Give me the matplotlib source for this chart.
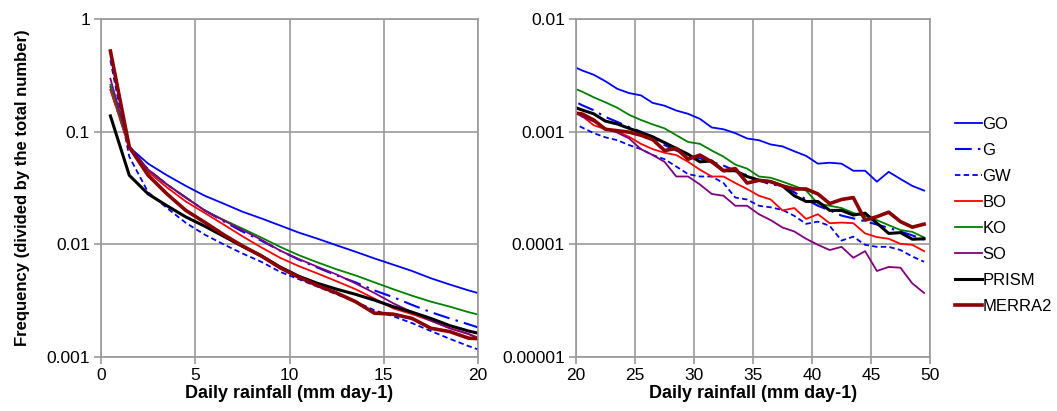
import matplotlib
matplotlib.use("Agg")
import matplotlib.pyplot as plt
from matplotlib.ticker import FixedLocator, NullLocator

plt.rcParams['font.family'] = ['Liberation Sans', 'DejaVu Sans']

# bin centres (mm day-1)
rain = [0.5, 1.5, 2.5, 3.5, 4.5, 5.5, 6.5, 7.5, 8.5, 9.5,
        10.5, 11.5, 12.5, 13.5, 14.5, 15.5, 16.5, 17.5, 18.5, 19.5,
        20.5, 21.5, 22.5, 23.5, 24.5, 25.5, 26.5, 27.5, 28.5, 29.5,
        30.5, 31.5, 32.5, 33.5, 34.5, 35.5, 36.5, 37.5, 38.5, 39.5,
        40.5, 41.5, 42.5, 43.5, 44.5, 45.5, 46.5, 47.5, 48.5, 49.5]

go = [0.25, 0.073, 0.052, 0.041, 0.033, 0.027, 0.023, 0.0195, 0.017, 0.0147,
      0.0127, 0.0112, 0.0098, 0.0086, 0.0075, 0.0066, 0.0058, 0.0050, 0.0044, 0.0039,
      0.0035, 0.0032, 0.0028, 0.0024, 0.0022, 0.0021, 0.0018, 0.0017, 0.00154, 0.00144,
      0.0013, 0.00109, 0.00105, 0.00097, 0.00087, 0.00084, 0.00077, 0.00074, 0.00067, 0.00061,
      0.00052, 0.00053, 0.00052, 0.00045, 0.00045, 0.00036, 0.00044, 0.00038, 0.00033, 0.00030]
g = [0.24, 0.074, 0.046, 0.034, 0.026, 0.020, 0.016, 0.013, 0.0108, 0.0088,
     0.0073, 0.0062, 0.0053, 0.0046, 0.0039, 0.0034, 0.0029, 0.0025, 0.0022, 0.00195,
     0.00172, 0.00155, 0.00135, 0.00122, 0.0011, 0.0010, 0.00090, 0.00076, 0.00068, 0.00062,
     0.00058, 0.00054, 0.00050, 0.00045, 0.00041, 0.00037, 0.00034, 0.00033, 0.00029, 0.00025,
     0.00022, 0.00020, 0.00018, 0.00017, 0.00016, 0.00015, 0.00014, 0.00013, 0.00012, 0.00011]
gw = [0.43, 0.06, 0.029, 0.021, 0.0155, 0.0122, 0.0100, 0.0083, 0.0070, 0.0057,
      0.0049, 0.0042, 0.0036, 0.0031, 0.0026, 0.0023, 0.0020, 0.0017, 0.00145, 0.00125,
      0.00109, 0.00097, 0.00089, 0.00084, 0.00076, 0.00070, 0.00062, 0.00057, 0.00049, 0.00042,
      0.00040, 0.00040, 0.00035, 0.00026, 0.00025, 0.00022, 0.000213, 0.000202, 0.000179, 0.000152,
      0.000159, 0.000146, 0.000108, 0.000117, 0.000099, 0.000095, 0.000095, 0.000089, 0.000078, 0.000070]
bo = [0.235, 0.072, 0.044, 0.032, 0.024, 0.019, 0.015, 0.0118, 0.0094, 0.0076,
      0.0064, 0.0055, 0.0047, 0.0040, 0.0033, 0.0027, 0.0024, 0.0021, 0.0018, 0.0016,
      0.00138, 0.00114, 0.00105, 0.00100, 0.00090, 0.00078, 0.00070, 0.00065, 0.00062, 0.00054,
      0.00046, 0.00040, 0.00040, 0.00035, 0.00031, 0.00027, 0.00025, 0.00020, 0.00021, 0.000168,
      0.000185, 0.000154, 0.000156, 0.000154, 0.000125, 0.000116, 0.000112, 0.000101, 0.000099, 0.000087]
ko = [0.26, 0.073, 0.046, 0.034, 0.026, 0.020, 0.0165, 0.0138, 0.0115, 0.0095,
      0.0080, 0.0069, 0.0060, 0.0053, 0.0046, 0.0040, 0.0035, 0.0031, 0.0028, 0.0025,
      0.00227, 0.00202, 0.00182, 0.00163, 0.00141, 0.00127, 0.00116, 0.00107, 0.00093, 0.00081,
      0.00078, 0.00068, 0.00060, 0.00051, 0.00047, 0.00040, 0.00039, 0.00036, 0.00033, 0.00030,
      0.00023, 0.00022, 0.00021, 0.00019, 0.000178, 0.000164, 0.000148, 0.000134, 0.000129, 0.000115]
so = [0.295, 0.074, 0.046, 0.034, 0.026, 0.020, 0.0163, 0.0134, 0.0110, 0.0088,
      0.0074, 0.0063, 0.0054, 0.0045, 0.0037, 0.0030, 0.0025, 0.0021, 0.0018, 0.0016,
      0.00136, 0.00123, 0.00107, 0.00098, 0.00087, 0.00070, 0.00062, 0.00054, 0.00040, 0.00040,
      0.00034, 0.00028, 0.00027, 0.00022, 0.00022, 0.000185, 0.000164, 0.000141, 0.00013, 0.000112,
      0.000099, 0.000089, 0.000095, 0.000076, 0.000087, 0.000058, 0.000063, 0.000062, 0.000045, 0.000037]
prism = [0.138, 0.041, 0.028, 0.022, 0.0175, 0.0145, 0.0118, 0.0096, 0.0079, 0.0063,
         0.0052, 0.0045, 0.0040, 0.0036, 0.0032, 0.0028, 0.0025, 0.0022, 0.0019, 0.0017,
         0.00156, 0.00144, 0.00124, 0.00117, 0.00107, 0.00098, 0.00090, 0.00080, 0.00071, 0.00063,
         0.00054, 0.00055, 0.00045, 0.00045, 0.00040, 0.00037, 0.00036, 0.00033, 0.00027, 0.00024,
         0.00024, 0.00020, 0.00020, 0.000182, 0.000189, 0.000154, 0.000125, 0.000127, 0.000111, 0.000112]
merra2 = [0.52, 0.073, 0.041, 0.028, 0.020, 0.0157, 0.0122, 0.0097, 0.0079, 0.0062,
          0.0051, 0.0043, 0.0037, 0.0031, 0.00245, 0.0024, 0.0022, 0.0018, 0.00168, 0.00147,
          0.00144, 0.00127, 0.00105, 0.00102, 0.00099, 0.00093, 0.00085, 0.00068, 0.00071, 0.00057,
          0.00062, 0.00054, 0.00045, 0.00047, 0.00035, 0.00037, 0.00036, 0.00033, 0.00031, 0.00031,
          0.00028, 0.00023, 0.00025, 0.00026, 0.000164, 0.000176, 0.000193, 0.000159, 0.000142, 0.000151]

series = [
    ("GO", go, dict(color="#0000FF", lw=1.3)),
    ("G", g, dict(color="#0000FF", lw=1.5, dashes=(8, 3, 1.2, 3))),
    ("GW", gw, dict(color="#0000FF", lw=1.3, dashes=(3, 1.8))),
    ("BO", bo, dict(color="#FF0000", lw=1.3)),
    ("KO", ko, dict(color="#008000", lw=1.3)),
    ("SO", so, dict(color="#800080", lw=1.3)),
    ("PRISM", prism, dict(color="#000000", lw=2.2)),
    ("MERRA2", merra2, dict(color="#8B0000", lw=2.6)),
]

grid_c = "#999999"
fig = plt.figure(figsize=(10.57, 4.11), dpi=100)
ax1 = fig.add_axes([101/1057, 1-357/411, 377/1057, 338/411])
ax2 = fig.add_axes([576/1057, 1-357/411, 354/1057, 338/411])

for ax in (ax1, ax2):
    for name, vals, st in series:
        ax.plot(rain, vals, label=name, **st)
    ax.set_yscale("log")
    ax.yaxis.set_minor_locator(NullLocator())
    ax.grid(True, color=grid_c, lw=1.2)
    ax.set_axisbelow(True)
    for sp in ax.spines.values():
        sp.set_color(grid_c)
        sp.set_linewidth(1.2)
    ax.tick_params(axis="both", colors=grid_c, labelcolor="black",
                   labelsize=12.5, length=5, width=1.2, pad=3)
    ax.set_xlabel("Daily rainfall (mm day-1)", fontsize=13, fontweight="bold", labelpad=1)

ax1.set_xlim(0, 20)
ax1.set_ylim(0.001, 1)
ax1.xaxis.set_major_locator(FixedLocator([0, 5, 10, 15, 20]))
ax1.yaxis.set_major_locator(FixedLocator([0.001, 0.01, 0.1, 1]))
ax1.set_yticklabels(["0.001", "0.01", "0.1", "1"])
ax1.set_ylabel("Frequency (divided by the total number)", fontsize=12, fontweight="bold", labelpad=12)

ax2.set_xlim(20, 50)
ax2.set_ylim(0.00001, 0.01)
ax2.xaxis.set_major_locator(FixedLocator([20, 25, 30, 35, 40, 45, 50]))
ax2.yaxis.set_major_locator(FixedLocator([0.00001, 0.0001, 0.001, 0.01]))
ax2.set_yticklabels(["0.00001", "0.0001", "0.001", "0.01"])

h, l = ax2.get_legend_handles_labels()
fig.legend(h, l, loc="upper left", bbox_to_anchor=(955/1057, 1-117/411),
           frameon=False, fontsize=12, handlelength=1.6, handletextpad=0.05,
           labelspacing=0.66, borderaxespad=0, borderpad=0)

fig.savefig("out.png", dpi=100)
